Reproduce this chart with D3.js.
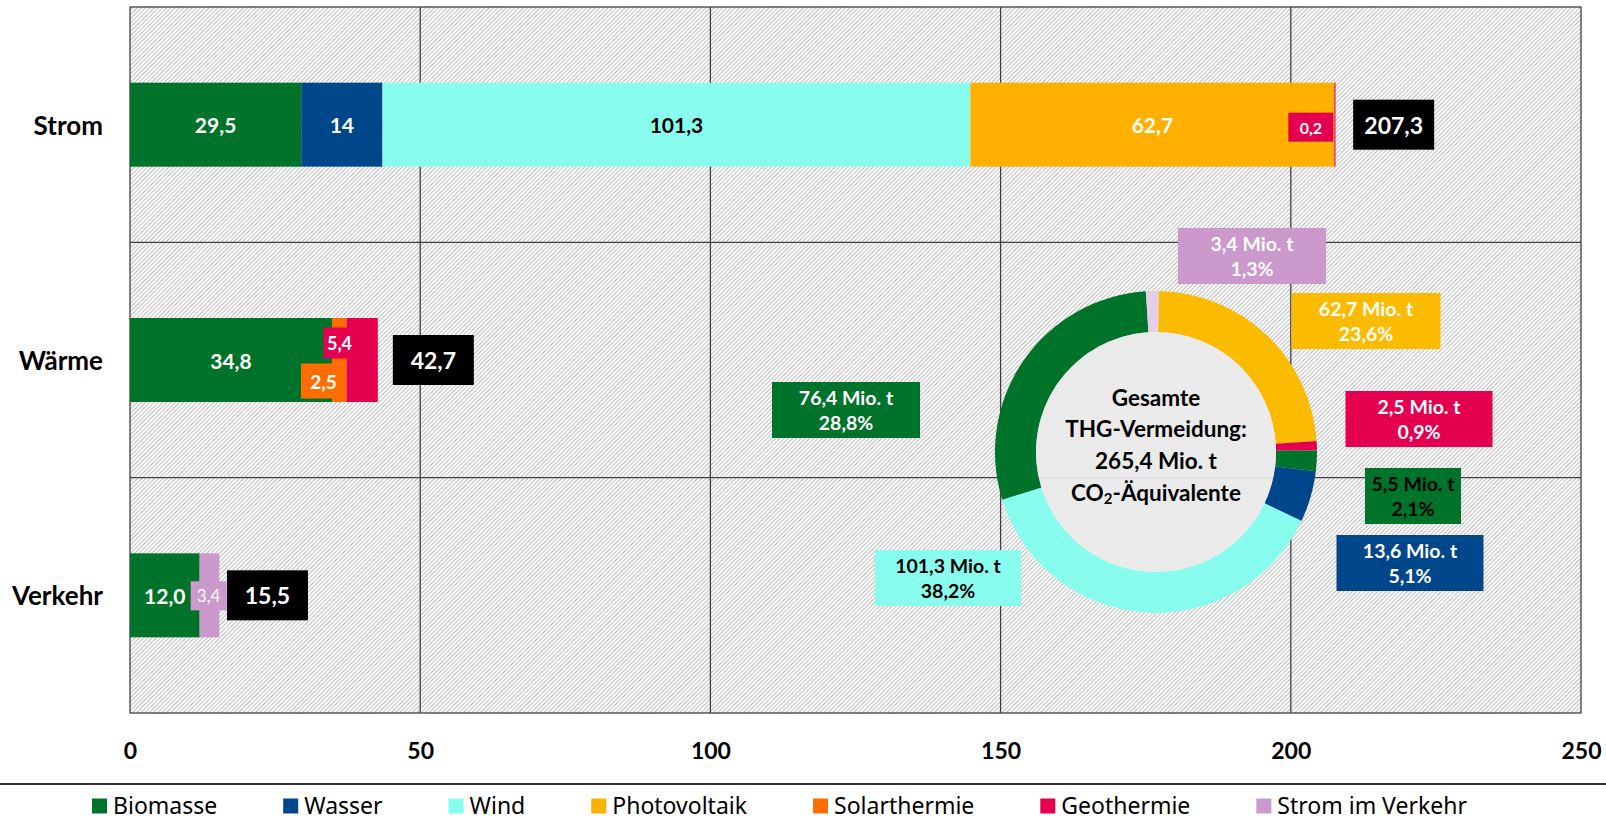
<!DOCTYPE html>
<html>
<head>
<meta charset="utf-8">
<script src="https://cdn.jsdelivr.net/npm/d3@7"></script>
<style>
  body { margin: 0; background: #fff; }
  svg { display: block; }
  text { font-family: Lato, "Noto Sans", sans-serif; }
</style>
</head>
<body>
<svg id="chart" width="1606" height="823"></svg>
<script>
// ---- data (Mio. t CO2-Äquivalente) ----
const categories = ["Strom", "Wärme", "Verkehr"];
const sources = ["Biomasse", "Wasser", "Wind", "Photovoltaik", "Solarthermie", "Geothermie", "Strom im Verkehr"];
const sourceColors = ["#00732a", "#00468b", "#88fdee", "#ffb000", "#ff6c00", "#e5004f", "#cc99cc"];

const stromValues   = [29.5, 14, 101.3, 62.7, 0, 0.2, 0];
const waermeValues  = [34.8, 0, 0, 0, 2.5, 5.4, 0];
const verkehrValues = [12.0, 0, 0, 0, 0, 0, 3.4];
const totals = [207.3, 42.7, 15.5];
const xTicks = [0, 50, 100, 150, 200, 250];

const donutNames  = ["Photovoltaik", "Solarthermie", "Geothermie", "Wasser", "Wind", "Biomasse", "Strom im Verkehr"];
const donutValues = [62.7, 2.5, 5.5, 13.6, 101.3, 76.4, 3.4];
const donutColors = ["#fbbb00", "#e5004f", "#00732a", "#00468b", "#88fdee", "#00732a", "#e6cde8"];
const donutBoxColors = ["#fbbb00", "#e5004f", "#00732a", "#00468b", "#88fdee", "#00732a", "#cc99cc"];
const donutTotal = 265.4;

// ---- layout ----
const svg = d3.select("#chart");
const W = 1606, H = 823;
const plotL = 130, plotR = 1581, plotT = 7, plotB = 713;

const de = d3.formatLocale({decimal: ",", thousands: ".", grouping: [3], currency: ["", " €"]});
const fmtTrim = de.format(",.1~f");
const fmt1 = de.format(",.1f");

const x = d3.scaleLinear().domain([0, 250]).range([plotL, plotR]);
const y = d3.scaleBand().domain(categories).range([plotT, plotB]);
const barH = 84;

const defs = svg.append("defs");
const hatch = defs.append("pattern")
  .attr("id", "hatch")
  .attr("patternUnits", "userSpaceOnUse")
  .attr("width", 3).attr("height", 3)
  .attr("patternTransform", "rotate(45)");
hatch.append("rect").attr("width", 3).attr("height", 3).attr("fill", "#fff");
hatch.append("line")
  .attr("x1", 0.5).attr("x2", 0.5).attr("y1", 0).attr("y2", 3)
  .attr("stroke", "#bdbdbd").attr("stroke-width", 1);

// background + grid
svg.append("rect")
  .attr("x", plotL).attr("y", plotT)
  .attr("width", plotR - plotL).attr("height", plotB - plotT)
  .attr("fill", "url(#hatch)");

svg.append("g").selectAll("line")
  .data(xTicks.slice(1, -1))
  .enter().append("line")
  .attr("x1", d => x(d)).attr("x2", d => x(d))
  .attr("y1", plotT).attr("y2", plotB)
  .attr("stroke", "#404040").attr("stroke-width", 1.3);

svg.append("g").selectAll("line")
  .data(categories.slice(1))
  .enter().append("line")
  .attr("x1", plotL).attr("x2", plotR)
  .attr("y1", d => y(d)).attr("y2", d => y(d))
  .attr("stroke", "#404040").attr("stroke-width", 1.3);

svg.append("rect")
  .attr("x", plotL).attr("y", plotT)
  .attr("width", plotR - plotL).attr("height", plotB - plotT)
  .attr("fill", "none").attr("stroke", "#404040").attr("stroke-width", 1.3);

// stacked bars
const seriesByCat = [stromValues, waermeValues, verkehrValues];
const segments = [];
seriesByCat.forEach((vals, ci) => {
  let acc = 0;
  vals.forEach((v, si) => {
    if (v > 0) segments.push({cat: ci, src: si, v: v, x0: acc, x1: acc + v});
    acc += v;
  });
});

const barY = c => y(c) + y.bandwidth() / 2 - barH / 2;

svg.append("g").selectAll("rect")
  .data(segments)
  .enter().append("rect")
  .attr("x", d => x(d.x0))
  .attr("y", d => barY(categories[d.cat]))
  .attr("width", d => x(d.x1) - x(d.x0))
  .attr("height", barH)
  .attr("fill", d => sourceColors[d.src]);

// labels of wide segments
const catFmt = [fmtTrim, fmt1, fmt1];
svg.append("g").selectAll("text")
  .data(segments.filter(d => x(d.x1) - x(d.x0) > 40))
  .enter().append("text")
  .attr("x", d => (x(d.x0) + x(d.x1)) / 2)
  .attr("y", d => y(categories[d.cat]) + y.bandwidth() / 2)
  .attr("text-anchor", "middle")
  .attr("dominant-baseline", "central")
  .attr("font-size", 21).attr("font-weight", 700)
  .attr("fill", d => d.src === 2 ? "#000" : "#fff")
  .text(d => catFmt[d.cat](d.v));

// boxed labels of the narrow segments: offset from segment start, width, dy, height
const smallBoxes = [
  {cat: 0, src: 5, dx: -46, w: 45, dy: 2.5, h: 29, fs: 16, fw: 700},
  {cat: 1, src: 5, dx: -23, w: 36, dy: -17, h: 31, fs: 18, fw: 700},
  {cat: 1, src: 4, dx: -31, w: 45, dy: 21, h: 35, fs: 19, fw: 700},
  {cat: 2, src: 6, dx: -9, w: 36, dy: 0.5, h: 29, fs: 17, fw: 400}
];
const smallG = svg.append("g");
smallBoxes.forEach(b => {
  const seg = segments.find(s => s.cat === b.cat && s.src === b.src);
  const cy = y(categories[b.cat]) + y.bandwidth() / 2 + b.dy;
  const x0 = x(seg.x0) + b.dx;
  smallG.append("rect")
    .attr("x", x0).attr("y", cy - b.h / 2)
    .attr("width", b.w).attr("height", b.h)
    .attr("fill", sourceColors[b.src]);
  smallG.append("text")
    .attr("x", x0 + b.w / 2 - (b.cat === 1 && b.src === 5 ? 2 : 0))
    .attr("y", cy)
    .attr("text-anchor", "middle").attr("dominant-baseline", "central")
    .attr("font-size", b.fs).attr("font-weight", b.fw)
    .attr("fill", "#fff")
    .text(catFmt[b.cat](seg.v));
});

// totals
const totalGap = [20, 15, 7];
const totG = svg.append("g").selectAll("g")
  .data(totals)
  .enter().append("g")
  .attr("transform", (d, i) => `translate(${x(d) + totalGap[i]},${y(categories[i]) + y.bandwidth() / 2})`);
totG.append("rect")
  .attr("x", 0).attr("y", -25).attr("width", 81).attr("height", 50)
  .attr("fill", "#000");
totG.append("text")
  .attr("x", 40.5).attr("y", 0)
  .attr("text-anchor", "middle").attr("dominant-baseline", "central")
  .attr("font-size", 23).attr("font-weight", 700).attr("fill", "#fff")
  .text(d => fmt1(d));

// axes
const xAxis = svg.append("g")
  .attr("transform", `translate(0,${plotB})`)
  .call(d3.axisBottom(x).tickValues(xTicks).tickSize(0).tickFormat(d3.format("d")));
xAxis.select(".domain").remove();
xAxis.selectAll("text")
  .attr("y", 37).attr("dy", null)
  .attr("dominant-baseline", "central")
  .attr("font-size", 23).attr("font-weight", 700)
  .style("font-family", "Lato, sans-serif").attr("fill", "#000");

const yAxis = svg.append("g")
  .attr("transform", `translate(${plotL},0)`)
  .call(d3.axisLeft(y).tickSize(0).tickPadding(27));
yAxis.select(".domain").remove();
yAxis.selectAll("text")
  .attr("dy", null).attr("dominant-baseline", "central")
  .attr("font-size", 26).attr("font-weight", 700)
  .style("font-family", "Lato, sans-serif").attr("fill", "#000");

// donut
const dcx = 1156, dcy = 452, rOuter = 161, rInner = 120;
const off = 1 * Math.PI / 180;
const pie = d3.pie().sort(null).startAngle(off).endAngle(2 * Math.PI + off);
const arc = d3.arc().innerRadius(rInner).outerRadius(rOuter);
const donut = svg.append("g").attr("transform", `translate(${dcx},${dcy})`);
donut.selectAll("path")
  .data(pie(donutValues))
  .enter().append("path")
  .attr("d", arc)
  .attr("fill", (d, i) => donutColors[i]);
donut.append("circle").attr("r", rInner).attr("fill", "#eaeaea").attr("opacity", 0.92);

const centerLines = ["Gesamte", "THG-Vermeidung:", fmt1(donutTotal) + " Mio. t"];
const centerDy = [-55, -23.5, 8.5, 40];
donut.selectAll("text.c")
  .data(centerLines)
  .enter().append("text")
  .attr("class", "c")
  .attr("y", (d, i) => centerDy[i])
  .attr("text-anchor", "middle").attr("dominant-baseline", "central")
  .attr("font-size", 22.5).attr("font-weight", 700).attr("fill", "#000")
  .text(d => d);
const co2 = donut.append("text")
  .attr("y", centerDy[3])
  .attr("text-anchor", "middle").attr("dominant-baseline", "central")
  .attr("font-size", 22.5).attr("font-weight", 700).attr("fill", "#000");
co2.append("tspan").text("CO");
co2.append("tspan").attr("font-size", 15).attr("dy", 6).text("2");
co2.append("tspan").attr("dy", -6).text("-Äquivalente");

// donut labels: box centre and width
const donutBoxPos = [
  {cx: 1366, cy: 321, w: 149},
  {cx: 1419, cy: 419, w: 147},
  {cx: 1413, cy: 496, w: 96},
  {cx: 1410, cy: 563, w: 147},
  {cx: 948, cy: 578, w: 146},
  {cx: 846, cy: 410, w: 148},
  {cx: 1252, cy: 256, w: 148}
];
const darkInk = ["Geothermie", "Wind"];
const dl = svg.append("g").selectAll("g")
  .data(donutValues)
  .enter().append("g")
  .attr("transform", (d, i) => `translate(${donutBoxPos[i].cx},${donutBoxPos[i].cy})`);
dl.append("rect")
  .attr("x", (d, i) => -donutBoxPos[i].w / 2).attr("y", -28)
  .attr("width", (d, i) => donutBoxPos[i].w).attr("height", 56)
  .attr("fill", (d, i) => donutBoxColors[i]);
dl.append("text")
  .attr("y", -12.5)
  .attr("text-anchor", "middle").attr("dominant-baseline", "central")
  .attr("font-size", 19.5).attr("font-weight", 700)
  .attr("fill", (d, i) => darkInk.includes(donutNames[i]) ? "#000" : "#fff")
  .text(d => fmt1(d) + " Mio. t");
dl.append("text")
  .attr("y", 12.5)
  .attr("text-anchor", "middle").attr("dominant-baseline", "central")
  .attr("font-size", 19.5).attr("font-weight", 700)
  .attr("fill", (d, i) => darkInk.includes(donutNames[i]) ? "#000" : "#fff")
  .text(d => fmt1(d / donutTotal * 100) + "%");

// legend
svg.append("line")
  .attr("x1", 0).attr("x2", W).attr("y1", 784).attr("y2", 784)
  .attr("stroke", "#333").attr("stroke-width", 2);

const legend = svg.append("g");
let lx = 92;
sources.forEach((s, i) => {
  legend.append("rect")
    .attr("x", lx).attr("y", 798.5).attr("width", 15).attr("height", 15)
    .attr("fill", sourceColors[i]);
  const t = legend.append("text")
    .attr("x", lx + 21).attr("y", 805)
    .attr("dominant-baseline", "central")
    .style("font-family", "'Noto Sans', sans-serif")
    .attr("font-size", 23).attr("fill", "#000")
    .text(s);
  lx += 21 + t.node().getComputedTextLength() + 66;
});
</script>
</body>
</html>
